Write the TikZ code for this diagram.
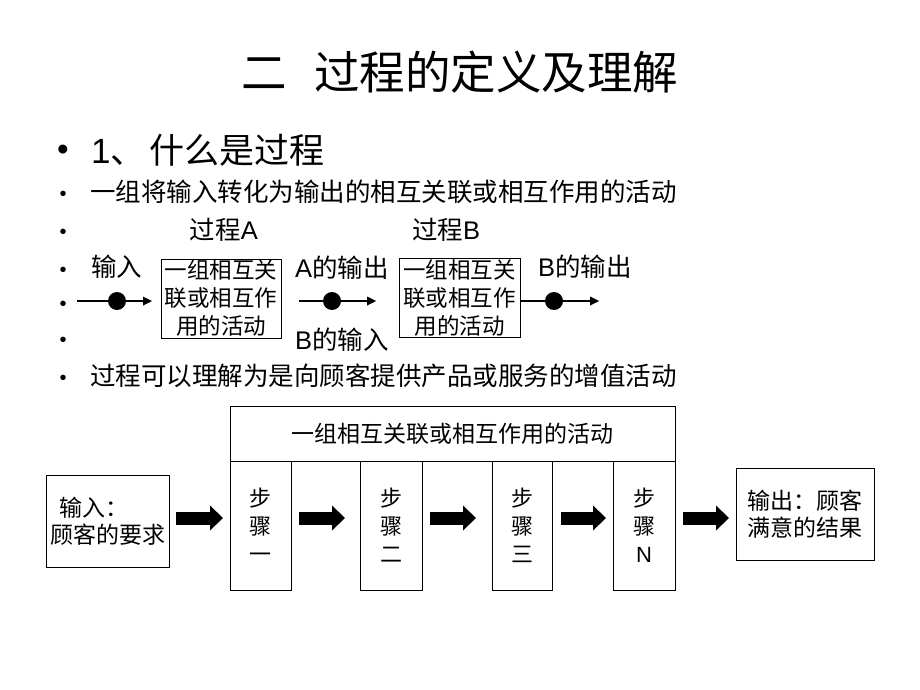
\documentclass[tikz,border=0pt]{standalone}
\usepackage{fontspec}
\setmainfont{Noto Sans CJK SC}
\newfontfamily\lat{Liberation Sans}
\usetikzlibrary{arrows.meta}
\begin{document}
\begin{tikzpicture}[x=1pt,y=-1pt,
  every node/.style={inner sep=0pt, outer sep=0pt},
  lbl/.style={anchor=west, font=\fontsize{25.5}{30}\selectfont},
  ctr/.style={font=\fontsize{25.5}{30}\selectfont},
  bul/.style={font=\lat\fontsize{20}{22}\selectfont},
  pbox/.style={draw, line width=1pt, minimum height=79pt, align=center, font=\fontsize{22.5}{28}\selectfont},
  dot/.style={circle, fill, minimum size=18pt},
  flow/.style={line width=2.5pt, -{Triangle[length=9pt,width=9pt,line width=0pt]}},
  gbox/.style={draw, line width=1pt, font=\fontsize{23}{28}\selectfont},
  stepbox/.style={draw, line width=1pt, minimum height=129pt, align=center, font=\fontsize{22}{28}\selectfont},
  endbox/.style={draw, line width=1pt, minimum height=92pt, font=\fontsize{23}{27}\selectfont},
  blk/.style={line width=13pt, -{Triangle[length=13pt,width=25pt,line width=0pt]}}
]
\useasboundingbox (0,0) rectangle (920,690);

% title
\node[font=\fontsize{45.5}{52}\selectfont] (title) at (460,72) {二\hspace{0.6em}过程的定义及理解};

% bullet list
\node[font=\lat\fontsize{33}{36}\selectfont] (b0) at (63,153) {•};
\node[anchor=west, font=\fontsize{35}{40}\selectfont] (l0) at (91,150) {{\lat 1}、\hspace{4pt}什么是过程};
\node[bul] (b1) at (63,196) {•};
\node[bul] (b2) at (63,234) {•};
\node[bul] (b3) at (63,272) {•};
\node[bul] (b4) at (63,306) {•};
\node[bul] (b5) at (63,342) {•};
\node[bul] (b6) at (63,380) {•};
\node[lbl] (l1) at (90,192) {一组将输入转化为输出的相互关联或相互作用的活动};
\node[lbl] (l6) at (90,376) {过程可以理解为是向顾客提供产品或服务的增值活动};

% process chain
\node[ctr] (pa) at (224,230) {过程{\lat A}};
\node[ctr] (pb) at (446,230) {过程{\lat B}};
\node[lbl] (in) at (91,267) {输入};
\node[lbl] (aout) at (295,268) {{\lat A}的输出};
\node[lbl] (bin) at (295,340) {{\lat B}的输入};
\node[lbl] (bout) at (538,267) {{\lat B}的输出};

\node[pbox, minimum width=120pt] (bA) at (221,298.5) {一组相互关\\联或相互作\\用的活动};
\node[pbox, minimum width=121pt] (bB) at (459.5,298) {一组相互关\\联或相互作\\用的活动};

\coordinate (fy) at (0,301);
\coordinate (f0) at (77,301);
\coordinate (f3) at (599,301);
\draw[flow, shorten >=9pt] (f0) -- (bA.west |- fy);
\draw[flow, shorten <=18pt, shorten >=23pt] (bA.east |- fy) -- (bB.west |- fy);
\draw[flow] (bB.east |- fy) -- (f3);
\node[dot] (d1) at (117,301) {};
\node[dot] (d2) at (332,301) {};
\node[dot] (d3) at (554,301) {};

% bottom diagram
\node[gbox, minimum width=445pt, minimum height=55pt] (grp) at (452.5,433.5) {一组相互关联或相互作用的活动};
\node[stepbox, minimum width=61pt] (s1) at (260.5,525.5) {步\\骤\\一};
\node[stepbox, minimum width=62pt] (s2) at (391,525.5) {步\\骤\\二};
\node[stepbox, minimum width=60pt] (s3) at (522,525.5) {步\\骤\\三};
\node[stepbox, minimum width=62pt] (sN) at (644,525.5) {步\\骤\\{\lat N}};
\node[endbox, minimum width=123pt, align=left] (inb) at (107.5,521) {\hspace*{9pt}输入：\\顾客的要求};
\node[endbox, minimum width=138pt, align=center] (outb) at (805,514) {输出：顾客\\满意的结果};

\coordinate (ay) at (0,518);
\draw[blk, shorten <=7pt, shorten >=7pt] (inb.east |- ay) -- (s1.west |- ay);
\draw[blk, shorten <=8pt, shorten >=15pt] (s1.east |- ay) -- (s2.west |- ay);
\draw[blk, shorten <=8pt, shorten >=16pt] (s2.east |- ay) -- (s3.west |- ay);
\draw[blk, shorten <=9pt, shorten >=7pt] (s3.east |- ay) -- (sN.west |- ay);
\draw[blk, shorten <=8pt, shorten >=7pt] (sN.east |- ay) -- (outb.west |- ay);
\end{tikzpicture}
\end{document}
